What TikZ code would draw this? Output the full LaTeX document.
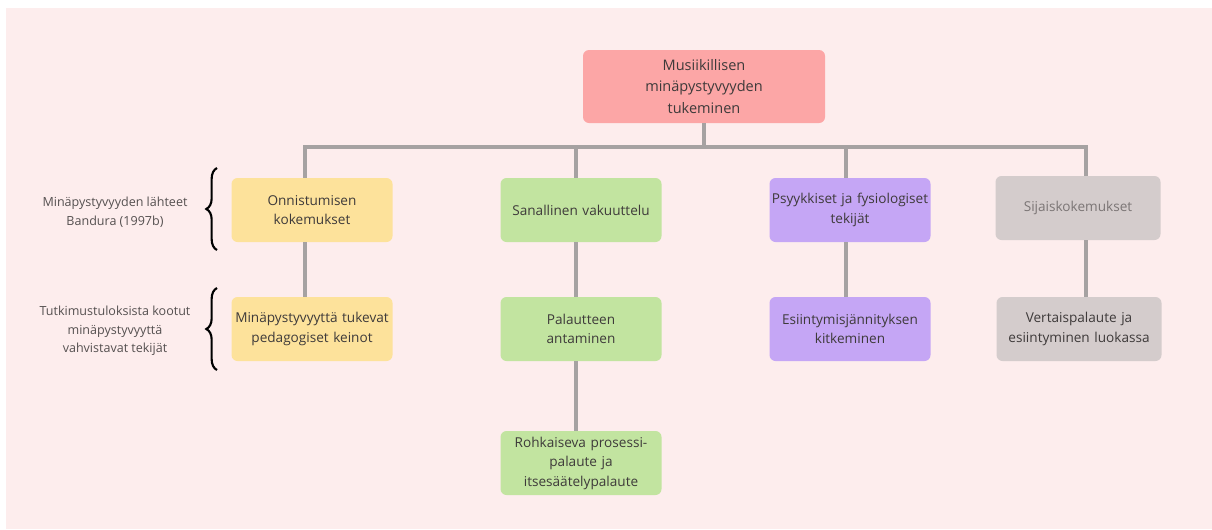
\documentclass[tikz,border=0pt]{standalone}
\usepackage{fontspec}
\setmainfont{Open Sans}
\usetikzlibrary{decorations.pathreplacing}
\definecolor{bgpink}{RGB}{253,237,237}
\definecolor{rootred}{RGB}{252,166,166}
\definecolor{boxyel}{RGB}{253,226,155}
\definecolor{boxgrn}{RGB}{194,228,160}
\definecolor{boxpur}{RGB}{197,166,245}
\definecolor{boxgry}{RGB}{212,204,204}
\definecolor{linegry}{RGB}{166,162,162}
\definecolor{txtgry}{RGB}{62,58,58}
\definecolor{lblgry}{RGB}{85,80,80}

\begin{document}
\begin{tikzpicture}[x=.75pt,y=-.75pt,font=\fontsize{10.2}{14.6}\selectfont,
  box/.style={rounded corners=4.5pt,minimum width=120.75pt,minimum height=48pt,text width=118pt,align=center,inner sep=.5pt,text=txtgry},
  conn/.style={draw=linegry,line width=3pt},
  brc/.style={decorate,decoration={brace,amplitude=8pt},line width=1.6pt}]
\useasboundingbox[fill=white] (0,0) rectangle (1212,529);
\fill[bgpink] (6,8) rectangle (1212,529);
\node[box,fill=rootred,minimum width=181.5pt,minimum height=54.75pt,text width=170pt,font=\fontsize{10.9}{16.2}\selectfont] (root) at (704,86.5) {Musiikillisen\\minäpystyvyyden\\tukeminen};
\node[box,fill=boxyel] (yel1) at (312,210) {Onnistumisen\\kokemukset};
\node[box,fill=boxyel] (yel2) at (312,329) {Minäpystyvyyttä tukevat\\pedagogiset keinot};
\node[box,fill=boxgrn] (grn1) at (581,210) {Sanallinen vakuuttelu};
\node[box,fill=boxgrn] (grn2) at (581,329) {Palautteen\\antaminen};
\node[box,fill=boxgrn] (grn3) at (581,463) {Rohkaiseva prosessi-\\palaute ja\\itsesäätelypalaute};
\node[box,fill=boxpur] (pur1) at (850,210) {Psyykkiset ja fysiologiset\\tekijät};
\node[box,fill=boxpur] (pur2) at (850,329) {Esiintymisjännityksen\\kitkeminen};
\node[box,fill=boxgry,minimum width=123.75pt,text=lblgry!70!boxgry] (gry1) at (1078,208) {Sijaiskokemukset};
\node[box,fill=boxgry,minimum width=123.75pt] (gry2) at (1079,329) {Vertaispalaute ja\\esiintyminen luokassa};
\node[align=center,text=lblgry,font=\fontsize{9.4}{14}\selectfont] (src) at (115,212.5) {Minäpystyvyyden lähteet\\Bandura (1997b)};
\node[align=center,text=lblgry,font=\fontsize{9.4}{14}\selectfont] (res) at (115,331) {Tutkimustuloksista kootut\\minäpystyvyyttä\\vahvistavat tekijät};
\coordinate (bar) at (704,147);
\coordinate (c1) at (305,0);\coordinate (c2) at (576,0);\coordinate (c3) at (846,0);\coordinate (c4) at (1086,0);
\draw[conn] (root.south) -- (bar);
\draw[conn,line width=3.4pt] ([xshift=-1.5pt]bar -| c1) -- ([xshift=1.5pt]bar -| c4);
\draw[conn] (bar -| c1) -- (c1 |- yel1.north);\draw[conn] (bar -| c2) -- (c2 |- grn1.north);
\draw[conn] (bar -| c3) -- (c3 |- pur1.north);\draw[conn] (bar -| c4) -- (c4 |- gry1.north);
\draw[conn] (c1 |- yel1.south) -- (c1 |- yel2.north);\draw[conn] (c2 |- grn1.south) -- (c2 |- grn2.north);
\draw[conn] (c2 |- grn2.south) -- (c2 |- grn3.north);\draw[conn] (c3 |- pur1.south) -- (c3 |- pur2.north);
\draw[conn] (c4 |- gry1.south) -- (c4 |- gry2.north);
\coordinate (b1) at (217,250);\coordinate (t1) at (217,168);
\coordinate (b2) at (217,370);\coordinate (t2) at (217,288);
\draw[brc] (b1) -- (t1);\draw[brc] (b2) -- (t2);
\end{tikzpicture}
\end{document}
